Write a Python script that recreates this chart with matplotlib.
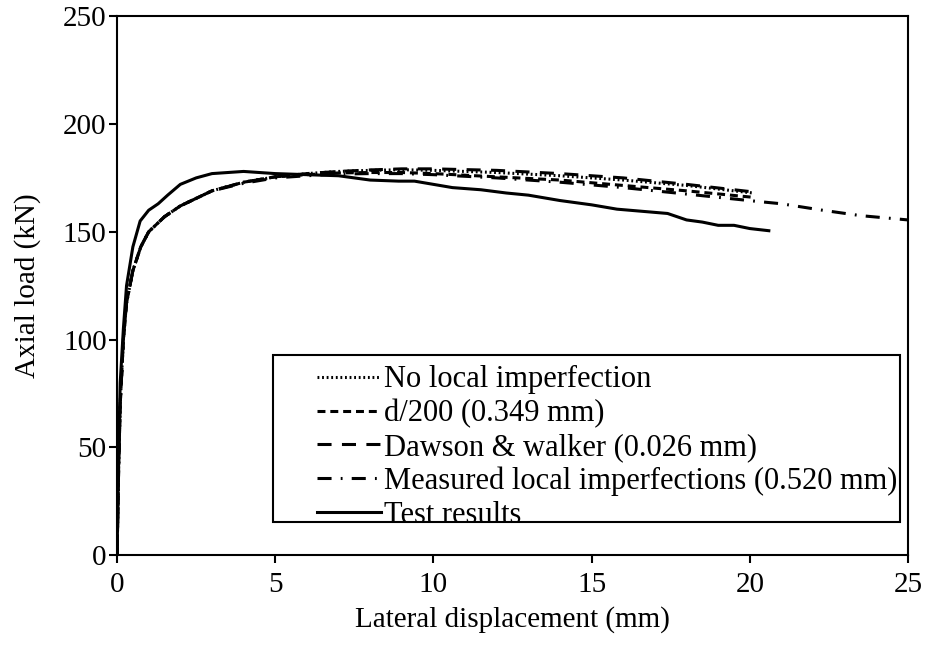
import matplotlib.pyplot as plt
from matplotlib.patches import Rectangle

plt.rcParams['font.family'] = ['Liberation Serif', 'DejaVu Serif']
plt.rcParams['font.size'] = 21

# Test results (lateral displacement mm, axial load kN)
test_x = [0, 0.05, 0.1, 0.2, 0.3, 0.5, 0.73, 1.0, 1.3, 1.6, 2.0, 2.5, 3.0, 3.5, 4.0,
          4.5, 5.0, 6.0, 7.0, 7.5, 8.0, 8.9, 9.4, 10.0, 10.6, 11.5, 12.3, 13.0, 14.0,
          15.0, 15.8, 17.0, 17.4, 18.0, 18.5, 19.0, 19.5, 20.0, 20.6]
test_y = [0, 45, 80, 105, 125, 143, 155, 160, 163, 167, 172, 175, 177, 177.5, 178,
          177.5, 177, 176.5, 176, 175, 174, 173.5, 173.5, 172, 170.5, 169.5, 168, 167, 164.5,
          162.5, 160.5, 159, 158.5, 155.5, 154.5, 153, 153, 151.5, 150.5]

# FE results
fe_x = [0, 0.05, 0.1, 0.2, 0.3, 0.5, 0.75, 1.0, 1.5, 2.0, 3.0, 4.0, 5.0, 6.0, 7.0,
        8.0, 9.0, 10.0, 12.0, 14.0, 16.0, 18.0, 20.1]
no_local_y = [0, 40, 70, 100, 117, 132, 143, 150, 157, 162, 169, 173, 175.5, 177, 178,
              178.5, 178.8, 178.5, 177.5, 176, 174, 171.5, 168]
d200_y = [0, 40, 70, 100, 117, 132, 143, 150, 157, 162, 169, 173, 175.5, 176.5, 177.3,
          177.5, 177.5, 177, 175.5, 174, 171.5, 169, 166]
dawson_y = [0, 40, 70, 100, 117, 132, 143, 150, 157, 162, 169, 173, 175.5, 177, 178,
            178.7, 179.2, 179.2, 178.5, 177, 175, 172, 168.5]
measured_x = fe_x[:-1] + [20.3, 21.0, 22.3, 23.5, 25.0]
measured_y = [0, 40, 70, 100, 117, 132, 143, 150, 157, 162, 169, 172.5, 175, 176, 176.8,
              177, 177, 176.5, 175, 173, 170.5, 167.5, 164, 163, 160, 157.5, 155.5]

fig = plt.figure(figsize=(9.26, 6.5), dpi=100)
ax = fig.add_axes([0.1264, 0.146, 0.8542, 0.829])

lw = 2.2
ax.plot(fe_x, no_local_y, color='black', lw=lw, linestyle=(0, (0.6, 0.9)),
        label='No local imperfection')
ax.plot(fe_x, d200_y, color='black', lw=lw, linestyle=(0, (2.6, 1.6)),
        label='d/200 (0.349 mm)')
ax.plot(fe_x, dawson_y, color='black', lw=lw, linestyle=(0, (4.6, 3.4)),
        label='Dawson & walker (0.026 mm)')
ax.plot(measured_x, measured_y, color='black', lw=lw, linestyle=(0, (4.6, 3.0, 0.6, 3.0)),
        label='Measured local imperfections (0.520 mm)')
ax.plot(test_x, test_y, color='black', lw=lw, label='Test results')

ax.set_xlim(0, 25)
ax.set_ylim(0, 250)
ax.set_xticks(range(0, 26, 5))
ax.set_yticks(range(0, 251, 50))
ax.set_xlabel('Lateral displacement (mm)', labelpad=6)
ax.set_ylabel('Axial load (kN)', labelpad=16)

for side in ['left', 'right', 'top', 'bottom']:
    ax.spines[side].set_linewidth(1.5)
ax.tick_params(direction='out', length=6, width=1.5, labelsize=21)
ax.tick_params(axis='x', pad=6)
ax.tick_params(axis='y', pad=1.5)

# legend box drawn separately so the entries can sit off-centre inside it
ax.add_patch(Rectangle((0.197, 0.0612), 0.793, 0.3098, transform=ax.transAxes,
                       facecolor='white', edgecolor='black', lw=1.5, zorder=5))
leg = ax.legend(loc='upper left', bbox_to_anchor=(0.2528, 0.352), borderaxespad=0,
                borderpad=0, handlelength=2.1, handletextpad=0.1, labelspacing=0.15,
                frameon=False, fontsize=22)
leg.set_zorder(6)

fig.savefig('out.png', dpi=100)
